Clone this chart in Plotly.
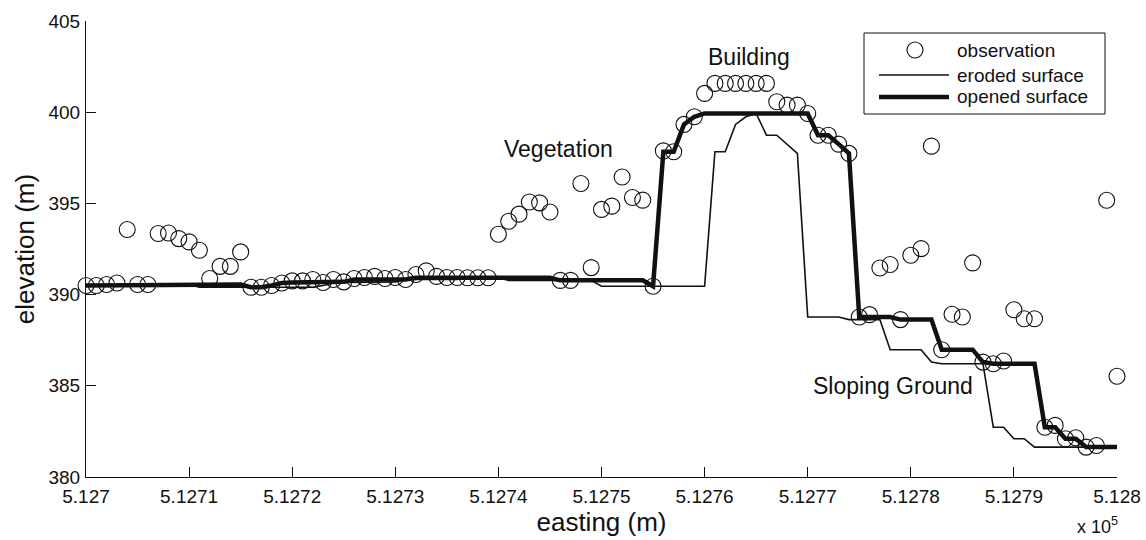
import plotly.graph_objects as go

# ---------------- data ----------------
easting = [512700, 512701, 512702, 512703, 512704, 512705, 512706, 512707, 512708, 512709,
           512710, 512711, 512712, 512713, 512714, 512715, 512716, 512717, 512718, 512719,
           512720, 512721, 512722, 512723, 512724, 512725, 512726, 512727, 512728, 512729,
           512730, 512731, 512732, 512733, 512734, 512735, 512736, 512737, 512738, 512739,
           512740, 512741, 512742, 512743, 512744, 512745, 512746, 512747, 512748, 512749,
           512750, 512751, 512752, 512753, 512754, 512755, 512756, 512757, 512758, 512759,
           512760, 512761, 512762, 512763, 512764, 512765, 512766, 512767, 512768, 512769,
           512770, 512771, 512772, 512773, 512774, 512775, 512776, 512777, 512778, 512779,
           512780, 512781, 512782, 512783, 512784, 512785, 512786, 512787, 512788, 512789,
           512790, 512791, 512792, 512793, 512794, 512795, 512796, 512797, 512798, 512799,
           512800]

observation = [390.50, 390.50, 390.55, 390.64, 393.57, 390.55, 390.55, 393.35, 393.38, 393.07,
               392.89, 392.43, 390.88, 391.55, 391.55, 392.34, 390.40, 390.40, 390.50, 390.64,
               390.75, 390.75, 390.83, 390.66, 390.83, 390.70, 390.88, 390.94, 391.00, 390.88,
               390.94, 390.83, 391.10, 391.30, 391.00, 390.94, 390.94, 390.92, 390.92, 390.92,
               393.31, 394.02, 394.41, 395.08, 395.03, 394.53, 390.78, 390.78, 396.09, 391.48,
               394.67, 394.85, 396.45, 395.32, 395.18, 390.46, 397.88, 397.83, 399.33, 399.75,
               401.03, 401.58, 401.58, 401.58, 401.58, 401.58, 401.58, 400.57, 400.39, 400.39,
               399.93, 398.74, 398.74, 398.25, 397.74, 388.77, 388.90, 391.46, 391.65, 388.63,
               392.16, 392.52, 398.14, 386.98, 388.92, 388.77, 391.74, 386.30, 386.21, 386.36,
               389.17, 388.68, 388.68, 382.73, 382.83, 382.10, 382.15, 381.64, 381.73, 395.17,
               385.52]

eroded = [390.50, 390.50, 390.50, 390.50, 390.50, 390.50, 390.50, 390.55, 390.55, 390.55,
          390.55, 390.40, 390.40, 390.40, 390.40, 390.40, 390.40, 390.40, 390.40, 390.40,
          390.40, 390.40, 390.40, 390.50, 390.64, 390.66, 390.66, 390.66, 390.66, 390.70,
          390.70, 390.83, 390.83, 390.83, 390.83, 390.83, 390.83, 390.92, 390.92, 390.92,
          390.92, 390.78, 390.78, 390.78, 390.78, 390.78, 390.78, 390.78, 390.78, 390.78,
          390.46, 390.46, 390.46, 390.46, 390.46, 390.46, 390.46, 390.46, 390.46, 390.46,
          390.46, 397.83, 397.83, 399.33, 399.75, 399.93, 398.74, 398.74, 398.25, 397.74,
          388.77, 388.77, 388.77, 388.77, 388.63, 388.63, 388.63, 388.63, 386.98, 386.98,
          386.98, 386.98, 386.30, 386.21, 386.21, 386.21, 386.21, 386.21, 382.73, 382.73,
          382.10, 382.10, 381.64, 381.64, 381.64, 381.64, 381.64, 381.64, 381.64, 381.64,
          381.64]

opened = [390.50, 390.50, 390.55, 390.55, 390.55, 390.55, 390.55, 390.55, 390.55, 390.55,
          390.55, 390.55, 390.55, 390.55, 390.55, 390.55, 390.40, 390.40, 390.50, 390.64,
          390.66, 390.66, 390.66, 390.66, 390.70, 390.70, 390.83, 390.83, 390.83, 390.83,
          390.83, 390.83, 390.92, 390.92, 390.92, 390.92, 390.92, 390.92, 390.92, 390.92,
          390.92, 390.92, 390.92, 390.92, 390.92, 390.92, 390.78, 390.78, 390.78, 390.78,
          390.78, 390.78, 390.78, 390.78, 390.78, 390.46, 397.83, 397.83, 399.33, 399.75,
          399.93, 399.93, 399.93, 399.93, 399.93, 399.93, 399.93, 399.93, 399.93, 399.93,
          399.93, 398.74, 398.74, 398.25, 397.74, 388.77, 388.77, 388.77, 388.77, 388.63,
          388.63, 388.63, 388.63, 386.98, 386.98, 386.98, 386.98, 386.30, 386.21, 386.21,
          386.21, 386.21, 386.21, 382.73, 382.73, 382.10, 382.10, 381.64, 381.64, 381.64,
          381.64]

x_tickvals = [512700, 512710, 512720, 512730, 512740, 512750, 512760, 512770, 512780, 512790, 512800]
x_ticktext = ["5.127", "5.1271", "5.1272", "5.1273", "5.1274", "5.1275",
              "5.1276", "5.1277", "5.1278", "5.1279", "5.128"]
y_tickvals = [380, 385, 390, 395, 400, 405]

legend_labels = ["observation", "eroded surface", "opened surface"]

# ---------------- layout helpers ----------------
W, H = 1146, 540
ML, MR, MT, MB = 86, 29, 21, 63
PW, PH = W - ML - MR, H - MT - MB
FONT = "Arial, 'Liberation Sans', Helvetica, sans-serif"
INK = "#111111"


def px_x(px):
    return (px - ML) / PW


def px_y(py):
    return (H - MB - py) / PH


fig = go.Figure()

fig.add_trace(go.Scatter(
    x=easting, y=observation, mode="markers", name=legend_labels[0],
    marker=dict(symbol="circle-open", size=16, color=INK, line=dict(width=1.1, color=INK)),
    cliponaxis=False, showlegend=False))

fig.add_trace(go.Scatter(
    x=easting, y=eroded, mode="lines", name=legend_labels[1],
    line=dict(color=INK, width=1.6), cliponaxis=False, showlegend=False))

fig.add_trace(go.Scatter(
    x=easting, y=opened, mode="lines", name=legend_labels[2],
    line=dict(color=INK, width=4.5), cliponaxis=False, showlegend=False))

# ---------------- manual legend ----------------
shapes = [
    dict(type="rect", xref="paper", yref="paper",
         x0=px_x(864), x1=px_x(1105), y0=px_y(114), y1=px_y(33),
         line=dict(color=INK, width=1), fillcolor="white", layer="below"),
    dict(type="circle", xref="paper", yref="paper", xsizemode="pixel", ysizemode="pixel",
         xanchor=px_x(915), yanchor=px_y(50), x0=-8, x1=8, y0=-8, y1=8,
         line=dict(color=INK, width=1.1)),
    dict(type="line", xref="paper", yref="paper",
         x0=px_x(879), x1=px_x(949), y0=px_y(75), y1=px_y(75),
         line=dict(color=INK, width=1.6)),
    dict(type="line", xref="paper", yref="paper",
         x0=px_x(879), x1=px_x(949), y0=px_y(97), y1=px_y(97),
         line=dict(color=INK, width=4.5)),
]

annotations = []
for label, row_y in zip(legend_labels, [50, 75, 97]):
    annotations.append(dict(text=label, xref="paper", yref="paper", x=px_x(955), y=px_y(row_y),
                            xanchor="left", yanchor="middle", showarrow=False,
                            font=dict(family=FONT, size=19, color=INK)))

for txt, xv, yv in [("Building", 512764.3, 403.05),
                    ("Vegetation", 512745.8, 398.0),
                    ("Sloping Ground", 512778.3, 385.0)]:
    annotations.append(dict(text=txt, x=xv, y=yv, xref="x", yref="y", showarrow=False,
                            xanchor="center", yanchor="middle",
                            font=dict(family=FONT, size=23, color=INK)))

annotations.append(dict(text="x 10<sup>5</sup>", xref="paper", yref="paper",
                        x=px_x(1120), y=px_y(539), xanchor="right", yanchor="bottom",
                        showarrow=False, font=dict(family=FONT, size=18, color=INK)))

axis_common = dict(showline=True, linecolor=INK, linewidth=1, ticks="inside", ticklen=10,
                   tickwidth=1, tickcolor=INK, showgrid=False, zeroline=False, mirror=False,
                   tickfont=dict(family=FONT, size=19, color=INK))

fig.update_layout(
    width=W, height=H, margin=dict(l=ML, r=MR, t=MT, b=MB, autoexpand=False),
    paper_bgcolor="white", plot_bgcolor="white",
    font=dict(family=FONT, color=INK),
    shapes=shapes, annotations=annotations, showlegend=False,
    xaxis=dict(range=[512700, 512800], tickvals=x_tickvals, ticktext=x_ticktext,
               ticklabelstandoff=2,
               title=dict(text="easting (m)", font=dict(family=FONT, size=26, color=INK), standoff=2),
               **axis_common),
    yaxis=dict(range=[380, 405], tickvals=y_tickvals, ticklabelstandoff=1,
               title=dict(text="elevation (m)", font=dict(family=FONT, size=26, color=INK), standoff=6),
               **axis_common),
)

fig.write_html("out.html")
